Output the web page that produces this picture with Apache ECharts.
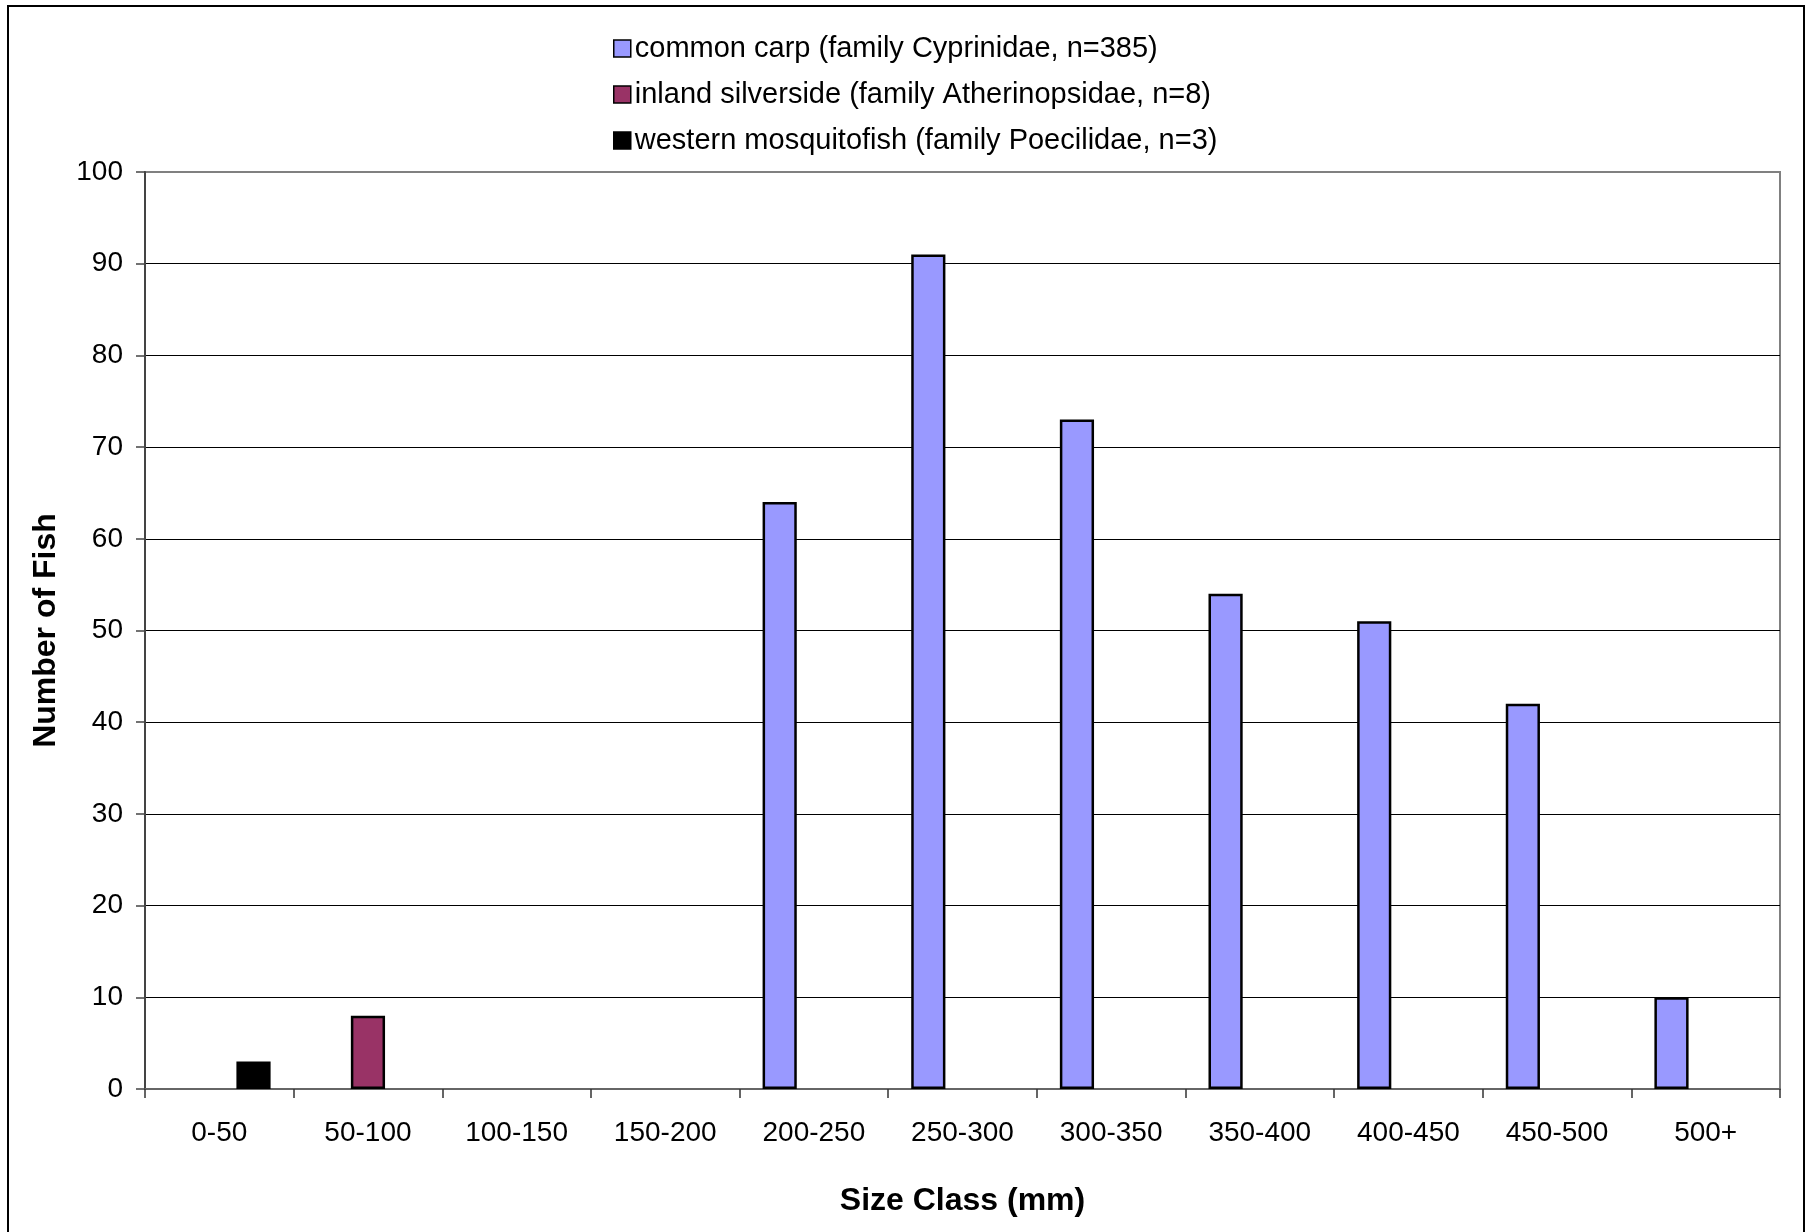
<!DOCTYPE html>
<html>
<head>
<meta charset="utf-8">
<script src="https://cdn.jsdelivr.net/npm/echarts@6/dist/echarts.min.js"></script>
<style>
html,body{margin:0;padding:0;background:#fff;}
#chart{width:1805px;height:1232px;}
</style>
</head>
<body>
<div id="chart"></div>
<script>
const categories = ['0-50','50-100','100-150','150-200','200-250','250-300','300-350','350-400','400-450','450-500','500+'];
const carp = [null,null,null,null,64,91,73,54,51,42,10];
const silverside = [null,8,null,null,null,null,null,null,null,null,null];
const mosquitofish = [3,null,null,null,null,null,null,null,null,null,null];
const seriesNames = ['common carp (family Cyprinidae, n=385)','inland silverside (family Atherinopsidae, n=8)','western mosquitofish (family Poecilidae, n=3)'];
const yTicks = [0,10,20,30,40,50,60,70,80,90,100];

const FONT = '"Liberation Sans", Arial, sans-serif';
const chart = echarts.init(document.getElementById('chart'), null, {renderer:'canvas'});
const gridColors = yTicks.map((v,i)=> (i===yTicks.length-1 ? '#808080' : '#000'));
chart.setOption({
  animation:false,
  backgroundColor:'#fff',
  textStyle:{fontFamily:FONT},
  graphic:[{type:'rect',shape:{x:8,y:6,width:1796,height:1300},style:{fill:'none',stroke:'#000',lineWidth:2},z:100}],
  legend:{
    orient:'vertical', left:608, top:29,
    icon:'rect',
    itemWidth:17, itemHeight:17, itemGap:17,
    data:seriesNames,
    textStyle:{fontSize:29, color:'#000', fontFamily:FONT, padding:[0,0,0,-1]},
    itemStyle:{borderColor:'#000', borderWidth:1.5}
  },
  grid:{left:145, right:25, top:172, bottom:143, show:true, borderColor:'#808080', borderWidth:2, backgroundColor:'#fff'},
  xAxis:{
    type:'category', data:categories,
    name:'Size Class (mm)', nameLocation:'middle', nameGap:96,
    nameTextStyle:{fontSize:32, fontWeight:'bold', color:'#000', fontFamily:FONT},
    axisLine:{lineStyle:{color:'#666', width:2}},
    axisTick:{show:true, length:9, lineStyle:{color:'#333', width:1.5}},
    axisLabel:{fontSize:28, color:'#000', margin:30, fontFamily:FONT},
    splitLine:{show:false}
  },
  yAxis:{
    type:'value', min:0, max:100, interval:10,
    name:'Number of Fish', nameLocation:'middle', nameGap:83,
    nameTextStyle:{fontSize:32, fontWeight:'bold', color:'#000', fontFamily:FONT},
    axisLine:{show:true, lineStyle:{color:'#444', width:2}},
    axisTick:{show:true, length:9, lineStyle:{color:'#444', width:1.5}},
    axisLabel:{fontSize:28, color:'#000', margin:22, fontFamily:FONT},
    splitLine:{show:true, lineStyle:{color:gridColors, width:1.2}}
  },
  series:[
    {name:seriesNames[0], type:'bar', data:carp, barGap:'0%', barCategoryGap:'31%',
     itemStyle:{color:'#9999FF', borderColor:'#000', borderWidth:2.5}},
    {name:seriesNames[1], type:'bar', data:silverside, barGap:'0%', barCategoryGap:'31%',
     itemStyle:{color:'#993366', borderColor:'#000', borderWidth:2.5}},
    {name:seriesNames[2], type:'bar', data:mosquitofish, barGap:'0%', barCategoryGap:'31%',
     itemStyle:{color:'#000', borderColor:'#000', borderWidth:2.5}}
  ]
});
</script>
</body>
</html>
